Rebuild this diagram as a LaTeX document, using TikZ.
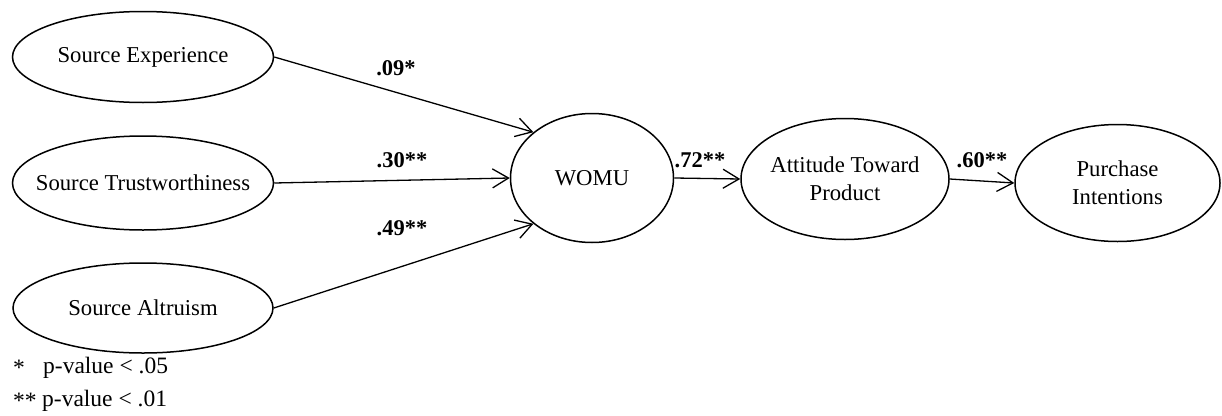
\documentclass[tikz,border=0pt]{standalone}
\usepackage{fontspec}
\setmainfont{Liberation Serif}
\usetikzlibrary{shapes.geometric,arrows.meta}
\tikzset{
  latent/.style={ellipse, draw, line width=1.5pt, inner sep=0pt},
  lbl/.style={align=center, inner sep=0pt, font=\fontsize{22.7}{28}\selectfont},
  path/.style={line width=1.3pt, -{Straight Barb[length=16pt,width=19pt,line width=1.3pt]}},
  coef/.style={font=\fontsize{22.5}{26}\selectfont\bfseries, inner sep=0pt},
  legend/.style={font=\fontsize{23.5}{28}\selectfont, inner sep=0pt, anchor=west}
}
\begin{document}
\begin{tikzpicture}[x=1pt,y=-1pt]
\useasboundingbox (0,0) rectangle (1222,415);
\node[latent, minimum width=261pt, minimum height=91pt,
  label={[lbl]center:Source Experience}] (exp) at (143,57) {};
\node[latent, minimum width=261pt, minimum height=94pt,
  label={[lbl]center:Source Trustworthiness}] (tru) at (143,183) {};
\node[latent, minimum width=260pt, minimum height=90pt,
  label={[lbl]center:Source Altruism}] (alt) at (143,308) {};
\node[latent, minimum width=163pt, minimum height=129pt,
  label={[lbl]center:WOMU}] (womu) at (592,178) {};
\node[latent, minimum width=208pt, minimum height=121pt,
  label={[lbl]center:{Attitude Toward\\Product}}] (att) at (845,179) {};
\node[latent, minimum width=205pt, minimum height=117pt,
  label={[lbl]center:{Purchase\\Intentions}}] (pur) at (1117.5,183) {};

\draw[path] (exp.east) -- (womu.142);
\draw[path] (tru.east) -- (womu.west);
\draw[path] (alt.east) -- (womu.218);
\draw[path] (womu.east) -- (att.west);
\draw[path] (att.east) -- (pur.west);

\node[coef] (c1) at (396,68) {.09*};
\node[coef] (c2) at (402,160) {.30**};
\node[coef] (c3) at (402,228) {.49**};
\node[coef] (c4) at (700,160) {.72**};
\node[coef] (c5) at (982,160) {.60**};

\node[legend] (s1) at (13,368) {*};
\node[legend] (l1) at (43,368) {p-value < .05};
\node[legend] (s2) at (13,401) {**};
\node[legend] (l2) at (42,401) {p-value < .01};
\end{tikzpicture}
\end{document}
